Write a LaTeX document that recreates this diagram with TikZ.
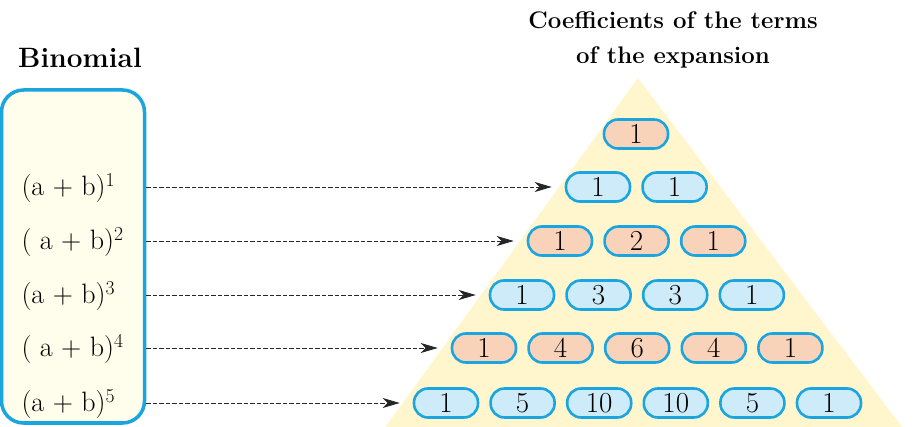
\documentclass[tikz,border=0pt]{standalone}
\usepackage{fontspec}
\usetikzlibrary{positioning,arrows.meta}
\definecolor{pillblue}{RGB}{205,235,248}
\definecolor{pillpeach}{RGB}{249,210,186}
\definecolor{rim}{RGB}{26,165,223}
\definecolor{cream}{RGB}{255,253,236}
\definecolor{pyramid}{RGB}{255,246,206}
\tikzset{
	x=1pt, y=-1pt, % pixel-like units, y grows downwards
	node distance=10pt, % gap between two coefficients of a row
	coef/.style={draw=rim, line width=2.6pt, rounded corners=14pt, minimum width=64pt, minimum height=29pt, inner sep=0pt, font=\fontsize{29}{29}\selectfont}, % one coefficient
	peachcoef/.style={coef, fill=pillpeach},
	bluecoef/.style={coef, fill=pillblue},
	power/.style={anchor=base west, font=\fontsize{28}{28}\selectfont}, % (a+b)^n on the left
	link/.style={dashed, dash pattern=on 4.5pt off 2pt, line width=0.8pt, draw=black!85, -{Stealth[length=17pt,width=10pt,inset=5pt]}, shorten >=13pt},
}

\begin{document}
\begin{tikzpicture}
	\useasboundingbox (0,0) rectangle (913,427);
	
	% the triangle behind the coefficients
	\fill[pyramid] (638,78) -- (912,440) -- (376,440) -- cycle;
	
	\node[font=\bfseries\fontsize{28}{28}\selectfont] (binhead) at (80,58) {Binomial};
	\node[font=\bfseries\fontsize{24}{35}\selectfont, align=center] (coefhead) at (673,40) {Coefficients of the terms\\of the expansion};
	
	\node[draw=rim, fill=cream, line width=3.5pt, rounded corners=22pt, minimum width=143pt, minimum height=333pt] (box) at (73,256.5) {};
	
	\node[power] (p1) at (18,196) {(a + b)\textsuperscript{1}};
	\node[power] (p2) at (18,250) {( a + b)\textsuperscript{2}};
	\node[power] (p3) at (18,304) {(a + b)\textsuperscript{3}};
	\node[power] (p4) at (18,357) {( a + b)\textsuperscript{4}};
	\node[power] (p5) at (18,412) {(a + b)\textsuperscript{5}};
	
	\node[peachcoef] (c00) at (636,134) {1};
	
	\node[bluecoef] (c10) at (598,187) {1};
	\node[bluecoef,right=of c10] (c11) {1};
	
	\node[peachcoef] (c20) at (560,241) {1};
	\node[peachcoef,right=of c20] (c21) {2};
	\node[peachcoef,right=of c21] (c22) {1};
	
	\node[bluecoef] (c30) at (522,295) {1};
	\node[bluecoef,right=of c30] (c31) {3};
	\node[bluecoef,right=of c31] (c32) {3};
	\node[bluecoef,right=of c32] (c33) {1};
	
	\node[peachcoef] (c40) at (484,348) {1};
	\node[peachcoef,right=of c40] (c41) {4};
	\node[peachcoef,right=of c41] (c42) {6};
	\node[peachcoef,right=of c42] (c43) {4};
	\node[peachcoef,right=of c43] (c44) {1};
	
	\node[bluecoef] (c50) at (446,403) {1};
	\node[bluecoef,right=of c50] (c51) {5};
	\node[bluecoef,right=of c51] (c52) {10};
	\node[bluecoef,right=of c52] (c53) {10};
	\node[bluecoef,right=of c53] (c54) {5};
	\node[bluecoef,right=of c54] (c55) {1};
	
	\draw	(box.east |- c10) edge[link] (c10.west)
			(box.east |- c20) edge[link] (c20.west)
			(box.east |- c30) edge[link] (c30.west)
			(box.east |- c40) edge[link] (c40.west)
			(box.east |- c50) edge[link] (c50.west);
	
\end{tikzpicture}
\end{document}
